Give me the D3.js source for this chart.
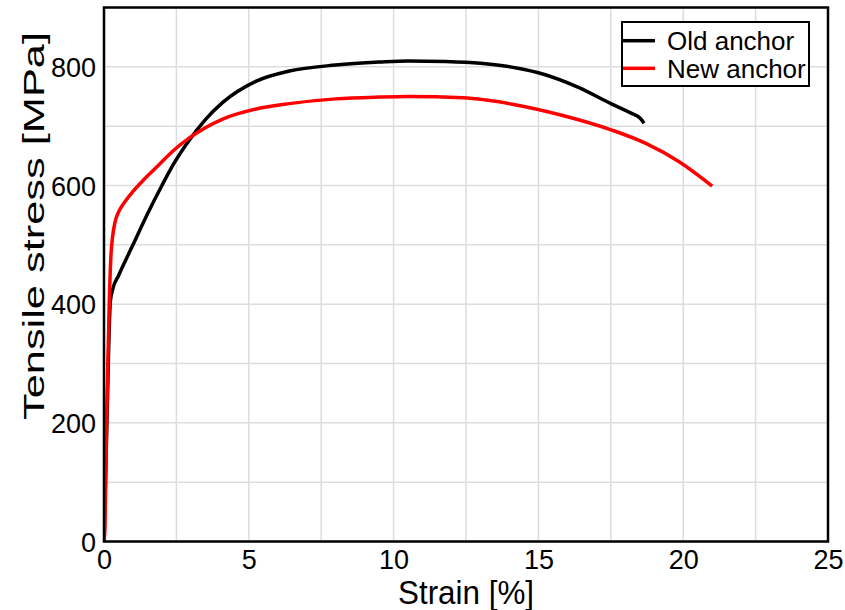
<!DOCTYPE html>
<html>
<head>
    <title>Tensile test</title>
    <script src="https://cdn.jsdelivr.net/npm/d3@7"></script>
    <style>
        body { margin: 0; background: #fff; }
        text { font-family: "Liberation Sans", Arial, Helvetica, sans-serif; fill: #000; }
    </style>
</head>
<body>
<svg id="chart" width="845" height="610"></svg>

<script>
    // strain [%] / stress [MPa]
    const oldStrain = [0, 0.1, 0.22, 0.3, 0.5, 1.0, 1.5, 2.0, 2.4, 2.85, 3.5, 4.1, 5.26, 6.4, 8, 9.5, 10.5, 11.8, 13, 13.9, 15, 16.4, 17.5, 18.2, 18.5, 18.65];
    const oldStress = [0, 200, 405, 425, 448, 500, 552, 600, 636, 670, 711, 740, 776, 793, 803, 808, 810, 809, 806, 801, 790, 765, 738, 722, 714, 705];

    const newStrain = [0, 0.03, 0.09, 0.18, 0.24, 0.3, 0.38, 0.5, 0.67, 1.0, 1.3, 1.82, 2.4, 2.97, 4.1, 5.26, 6.4, 8, 9.5, 10.5, 12.4, 13.2, 14.1, 15.84, 17.56, 18.71, 19.86, 21];
    const newStress = [0, 20, 200, 400, 482, 515, 538, 555, 569, 590, 606, 631, 659, 681, 712, 729, 738, 746, 749, 750, 748, 744, 737, 718, 693, 671, 640, 599];

    const seriesNames = ["Old anchor", "New anchor"];
    const seriesColors = ["#000000", "#ff0000"];

    const xTicks = [0, 5, 10, 15, 20, 25];
    const yTicks = [0, 200, 400, 600, 800];
    const xGrid = d3.range(0, 25.01, 2.5);
    const yGrid = d3.range(0, 901, 100);

    const plotLeft = 104, plotRight = 828, plotTop = 7.5, plotBottom = 541.5;

    const svg = d3.select('#chart');

    const x = d3.scaleLinear().domain([0, 25]).range([plotLeft, plotRight]);
    const y = d3.scaleLinear().domain([0, 900]).range([plotBottom, plotTop]);

    // grid
    svg.append("g")
        .selectAll("line")
        .data(xGrid)
        .join("line")
        .attr("x1", d => x(d)).attr("x2", d => x(d))
        .attr("y1", plotTop).attr("y2", plotBottom)
        .attr("stroke", "#dddddd")
        .attr("stroke-width", 1.5);

    svg.append("g")
        .selectAll("line")
        .data(yGrid)
        .join("line")
        .attr("x1", plotLeft).attr("x2", plotRight)
        .attr("y1", d => y(d)).attr("y2", d => y(d))
        .attr("stroke", "#dddddd")
        .attr("stroke-width", 1.5);

    // curves
    svg.append("clipPath").attr("id", "plot-clip")
        .append("rect")
        .attr("x", plotLeft).attr("y", plotTop)
        .attr("width", plotRight - plotLeft).attr("height", plotBottom - plotTop);

    const line = d3.line()
        .x(d => x(d[0]))
        .y(d => y(d[1]))
        .curve(d3.curveMonotoneX);

    const series = [
        d3.zip(oldStrain, oldStress),
        d3.zip(newStrain, newStress)
    ];

    svg.append("g")
        .attr("clip-path", "url(#plot-clip)")
        .selectAll("path")
        .data(series)
        .join("path")
        .attr("d", line)
        .attr("fill", "none")
        .attr("stroke", (d, i) => seriesColors[i])
        .attr("stroke-width", 3.5)
        .attr("stroke-linejoin", "round");

    // frame
    svg.append("rect")
        .attr("x", plotLeft).attr("y", plotTop)
        .attr("width", plotRight - plotLeft).attr("height", plotBottom - plotTop)
        .attr("fill", "none")
        .attr("stroke", "#000")
        .attr("stroke-width", 2.5);

    // axes, tick lines hidden, just the labels
    const xAxis = svg.append("g")
        .attr("transform", `translate(0,${plotBottom})`)
        .call(d3.axisBottom(x).tickValues(xTicks).tickSize(0).tickPadding(0));
    xAxis.select(".domain").remove();
    xAxis.selectAll("text")
        .attr("y", 27)
        .attr("dy", null)
        .style("font-size", "27px");
    xAxis.attr("font-family", null);

    const yAxis = svg.append("g")
        .attr("transform", `translate(${plotLeft},0)`)
        .call(d3.axisLeft(y).tickValues(yTicks).tickSize(0).tickPadding(0));
    yAxis.select(".domain").remove();
    yAxis.selectAll("text")
        .attr("x", -8)
        .attr("dy", "0.36em")
        .style("font-size", "27px");
    yAxis.attr("font-family", null);

    // axis titles
    svg.append("text")
        .attr("x", 466)
        .attr("y", 604)
        .attr("text-anchor", "middle")
        .attr("textLength", 136)
        .attr("lengthAdjust", "spacingAndGlyphs")
        .style("font-size", "34px")
        .text("Strain [%]");

    svg.append("text")
        .attr("transform", "translate(44,226) rotate(-90)")
        .attr("text-anchor", "middle")
        .attr("textLength", 388)
        .attr("lengthAdjust", "spacingAndGlyphs")
        .style("font-size", "29px")
        .text("Tensile stress [MPa]");

    // legend
    const legend = svg.append("g").attr("class", "legend");

    legend.append("rect")
        .attr("x", 622).attr("y", 22)
        .attr("width", 187).attr("height", 64)
        .attr("fill", "#fff")
        .attr("stroke", "#000")
        .attr("stroke-width", 2);

    seriesNames.forEach((name, i) => {
        const ly = 40.7 + i * 27.6;
        legend.append("line")
            .attr("x1", 623).attr("x2", 655)
            .attr("y1", ly).attr("y2", ly)
            .attr("stroke", seriesColors[i])
            .attr("stroke-width", 3.5);
        legend.append("text")
            .attr("x", 667)
            .attr("y", ly)
            .attr("dy", "0.36em")
            .style("font-size", "26px")
            .text(name);
    });
</script>
</body>
</html>
